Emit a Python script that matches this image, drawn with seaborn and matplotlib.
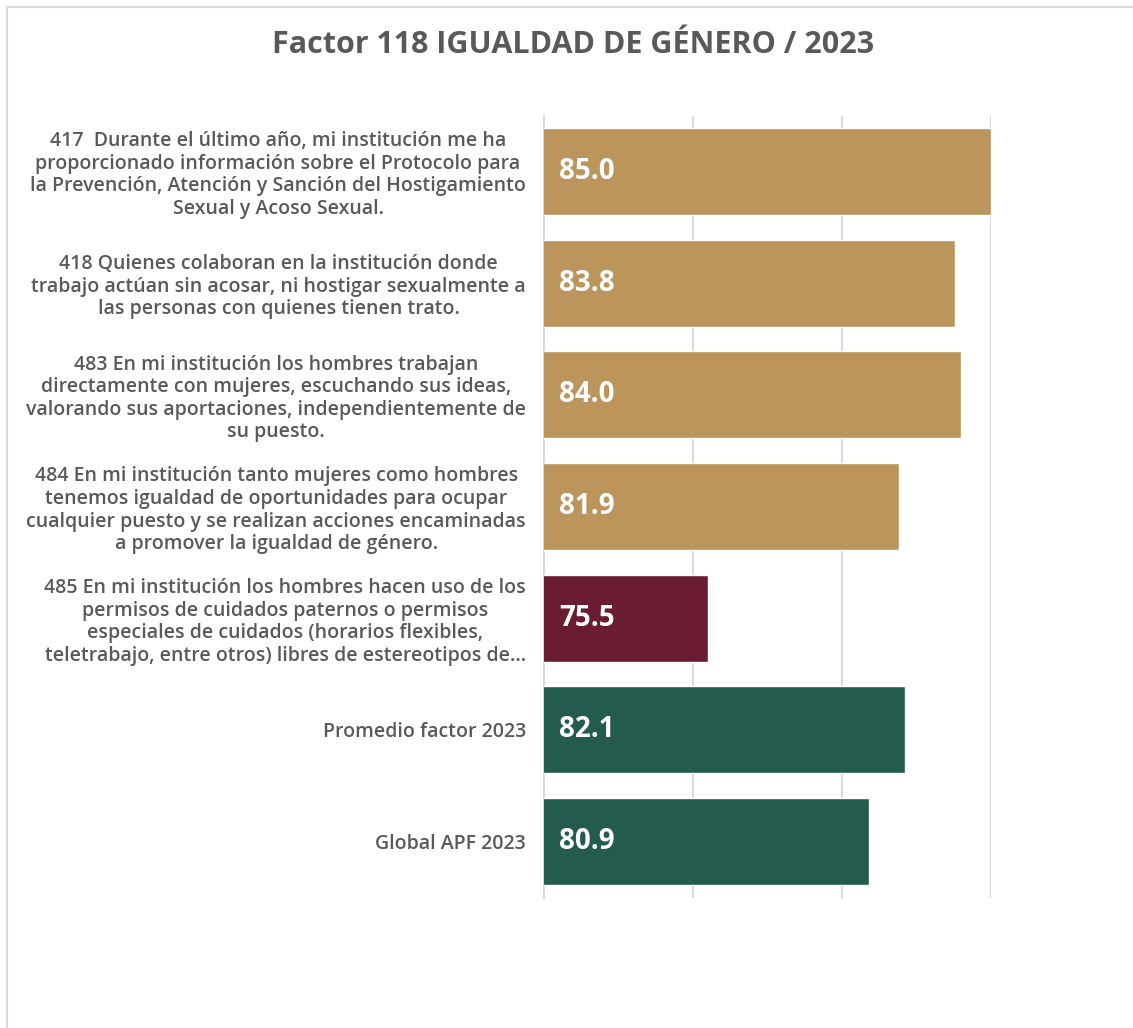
import matplotlib
matplotlib.use("Agg")
import matplotlib.pyplot as plt
import seaborn as sns
import pandas as pd
from matplotlib.patches import Rectangle

sns.set_theme(style="white")
plt.rcParams["font.family"] = ["Open Sans", "DejaVu Sans"]

labels = [
    "417  Durante el último año, mi institución me ha\nproporcionado información sobre el Protocolo para\nla Prevención, Atención y Sanción del Hostigamiento\nSexual y Acoso Sexual.",
    "418 Quienes colaboran en la institución donde\ntrabajo actúan sin acosar, ni hostigar sexualmente a\nlas personas con quienes tienen trato.",
    "483 En mi institución los hombres trabajan\ndirectamente con mujeres, escuchando sus ideas,\nvalorando sus aportaciones, independientemente de\nsu puesto.",
    "484 En mi institución tanto mujeres como hombres\ntenemos igualdad de oportunidades para ocupar\ncualquier puesto y se realizan acciones encaminadas\na promover la igualdad de género.",
    "485 En mi institución los hombres hacen uso de los\npermisos de cuidados paternos o permisos\nespeciales de cuidados (horarios flexibles,\nteletrabajo, entre otros) libres de estereotipos de...",
    "Promedio factor 2023",
    "Global APF 2023",
]
values = [85.0, 83.8, 84.0, 81.9, 75.5, 82.1, 80.9]
bar_colors = ["#BC955C", "#BC955C", "#BC955C", "#BC955C", "#6A1C32", "#235B4E", "#235B4E"]

TEXT = "#595959"
GRID = "#D9D9D9"

df = pd.DataFrame({"pregunta": labels, "valor": values})

fig = plt.figure(figsize=(11.33, 10.28), dpi=100)
fig.patches.append(Rectangle((7 / 1133, -0.01), 1.02, 1 - 7 / 1028 + 0.01,
                             transform=fig.transFigure, fill=False,
                             edgecolor="#D9D9D9", linewidth=1.5, zorder=0))

ax = fig.add_axes([544 / 1133, 1 - 897.5 / 1028, (991 - 544) / 1133, (897.5 - 115.5) / 1028])

sns.barplot(data=df, x="valor", y="pregunta", hue="pregunta",
            palette=dict(zip(labels, bar_colors)), legend=False,
            width=0.78, saturation=1, ax=ax, zorder=3)

ax.set_xlim(70, 85)
ax.set_xticks([75, 80, 85])
ax.set_xticklabels([])
ax.tick_params(axis="x", length=0)
ax.xaxis.grid(True, color=GRID, linewidth=1.5, zorder=0)
ax.set_axisbelow(True)
for side in ["top", "right", "bottom"]:
    ax.spines[side].set_visible(False)
ax.spines["left"].set_color(GRID)
ax.spines["left"].set_linewidth(1.5)
ax.set_xlabel("")
ax.set_ylabel("")

ax.tick_params(axis="y", length=0, pad=13)
for t in ax.get_yticklabels():
    t.set_multialignment("center")
    t.set_fontsize(14)
    t.set_fontweight("semibold")
    t.set_color(TEXT)
    t.set_linespacing(1.17)

for i, v in enumerate(values):
    ax.annotate(f"{v:.1f}", xy=(70, i), xytext=(11, 0), textcoords="offset points",
                ha="left", va="center", color="white", fontsize=20,
                fontweight="bold", zorder=4)

fig.text(573 / 1133, 1 - 45 / 1028, "Factor 118 IGUALDAD DE GÉNERO / 2023",
         ha="center", va="center", fontsize=22, fontweight="bold", color=TEXT)

fig.savefig("out.png", dpi=100, facecolor="white")
